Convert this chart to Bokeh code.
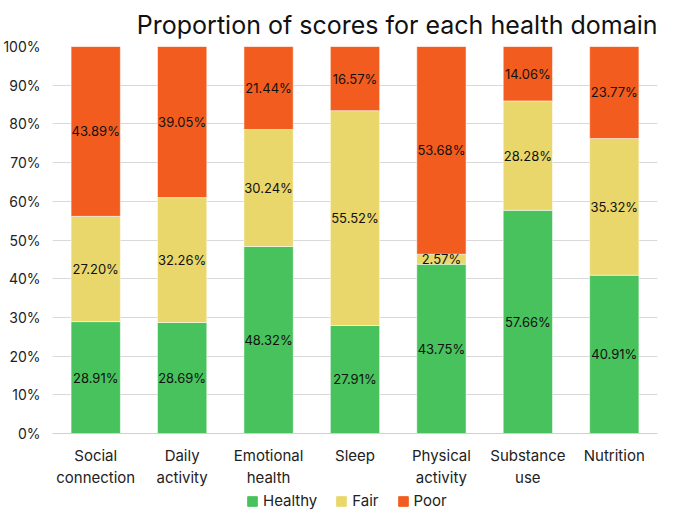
from bokeh.plotting import figure
from bokeh.models import ColumnDataSource, NumeralTickFormatter, FixedTicker, Legend, LegendItem
from bokeh.layouts import column
from bokeh.core.properties import value
from bokeh.embed import file_html
from bokeh.resources import INLINE
import numpy as np

categories = ["Social\nconnection", "Daily\nactivity", "Emotional\nhealth", "Sleep",
              "Physical\nactivity", "Substance\nuse", "Nutrition"]
healthy = [28.91, 28.69, 48.32, 27.91, 43.75, 57.66, 40.91]
fair = [27.20, 32.26, 30.24, 55.52, 2.57, 28.28, 35.32]
poor = [43.89, 39.05, 21.44, 16.57, 53.68, 14.06, 23.77]
series = ["Healthy", "Fair", "Poor"]
colors = ["#48C25C", "#EAD76B", "#F25D1F"]
FONT = "Inter"

data = {"cat": categories,
        "Healthy": [v / 100 for v in healthy],
        "Fair": [v / 100 for v in fair],
        "Poor": [v / 100 for v in poor]}
src = ColumnDataSource(data)

p = figure(x_range=categories, y_range=(0, 1), width=659, height=490,
           output_backend="svg", toolbar_location=None,
           title="Proportion of scores for each health domain")
p.title.align = "right"
p.title.text_font = FONT
p.title.text_font_size = "25px"
p.title.text_font_style = "normal"
p.title.text_color = "#111111"
p.title.standoff = 14
p.min_border_left = 10
p.min_border_right = 2
p.min_border_top = 42
p.min_border_bottom = 56
p.outline_line_color = None

renderers = p.vbar_stack(series, x="cat", width=0.57, source=src, color=colors,
                         line_color="white", line_width=0.5)

h = np.array(healthy) / 100
f = np.array(fair) / 100
pr = np.array(poor) / 100
ys = [h / 2, h + f / 2, h + f + pr / 2]
vals = [healthy, fair, poor]
for yv, vv in zip(ys, vals):
    s = ColumnDataSource(dict(x=categories, y=list(yv), t=["%.2f%%" % v for v in vv]))
    p.text(x="x", y="y", text="t", source=s, text_align="center", text_baseline="middle",
           text_font=value(FONT), text_font_size="13px", text_color="#111111")

p.yaxis.ticker = FixedTicker(ticks=[i / 10 for i in range(11)])
p.yaxis.formatter = NumeralTickFormatter(format="0%")
p.yaxis.axis_line_color = None
p.yaxis.major_tick_line_color = None
p.yaxis.minor_tick_line_color = None
p.yaxis.major_label_text_font = FONT
p.yaxis.major_label_text_font_size = "14px"
p.yaxis.major_label_text_color = "#222222"
p.yaxis.major_label_standoff = 6

p.xaxis.axis_line_color = "#d0d0d0"
p.xaxis.major_tick_line_color = None
p.xaxis.minor_tick_line_color = None
p.xaxis.major_label_text_font = FONT
p.xaxis.major_label_text_font_size = "15px"
p.xaxis.major_label_text_color = "#222222"
p.xaxis.major_label_standoff = 6

p.xgrid.grid_line_color = None
p.ygrid.grid_line_color = "#d9d9d9"
p.ygrid.ticker = FixedTicker(ticks=[i / 10 for i in range(11)])

# legend in a small companion figure
lf = figure(width=659, height=20, x_range=(0, 1), y_range=(0, 1),
            output_backend="svg", toolbar_location=None)
lf.axis.visible = False
lf.grid.visible = False
lf.outline_line_color = None
lf.min_border = 0
dummy = ColumnDataSource(dict(x=[-10], top=[-10]))
lrs = [lf.vbar(x="x", top="top", width=0.1, color=c, source=dummy) for c in colors]
legend = Legend(items=[LegendItem(label=s, renderers=[r]) for s, r in zip(series, lrs)],
                orientation="horizontal", location=(194, 0))
legend.label_text_font = FONT
legend.label_text_font_size = "15px"
legend.label_text_color = "#222222"
legend.glyph_width = 12
legend.glyph_height = 12
legend.spacing = 18
legend.label_standoff = 5
legend.label_height = 14
legend.border_line_color = None
legend.background_fill_alpha = 0
legend.padding = 2
legend.margin = 0
lf.add_layout(legend, "center")

layout = column(p, lf, spacing=0)
open("out.html", "w").write(file_html(layout, INLINE))
